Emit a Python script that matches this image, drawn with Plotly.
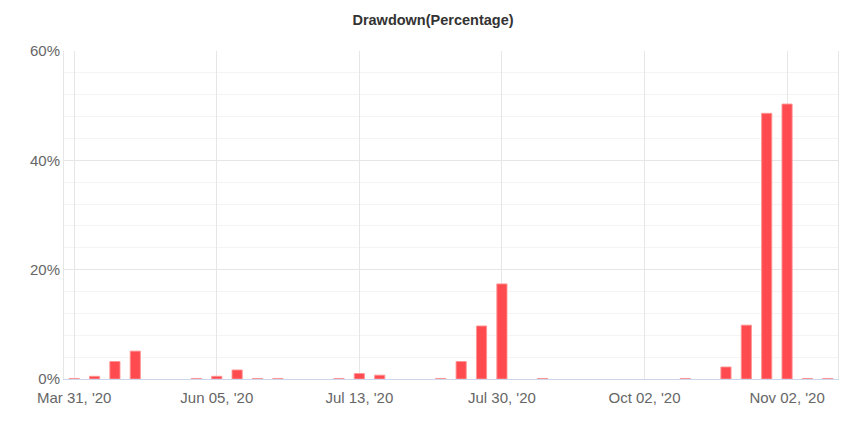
import plotly.graph_objects as go

# slot index of each bar along the categorical time axis (38 slots)
slots = list(range(38))
drawdown_pct = [0.1, 0.5, 3.2, 5.1, 0, 0, 0.1, 0.5, 1.65, 0.1,
                0.1, 0, 0, 0.1, 1.0, 0.7, 0, 0, 0.1, 3.2,
                9.7, 17.4, 0, 0.1, 0, 0, 0, 0, 0, 0,
                0.1, 0, 2.2, 9.85, 48.6, 50.3, 0.1, 0.1]
tick_slots = [0, 7, 14, 21, 28, 35]
tick_labels = ["Mar 31, '20", "Jun 05, '20", "Jul 13, '20", "Jul 30, '20", "Oct 02, '20", "Nov 02, '20"]

xs = [s for s, v in zip(slots, drawdown_pct) if v > 0]
ys = [v for v in drawdown_pct if v > 0]

fig = go.Figure(go.Bar(
    x=xs, y=ys, width=0.5,
    marker=dict(color="#ff4b4f", line=dict(color="rgba(255,150,150,0.9)", width=1)),
    hovertemplate="%{y}%<extra></extra>",
))

font = "Liberation Sans, Arial, sans-serif"
fig.update_layout(
    width=866, height=430,
    margin=dict(l=64, r=28, t=51, b=51),
    paper_bgcolor="white", plot_bgcolor="white",
    showlegend=False,
    title=dict(text="<b>Drawdown(Percentage)</b>", x=0.5, xanchor="center", y=0.953, yanchor="middle",
               font=dict(family=font, size=14.5, color="#333333")),
    font=dict(family=font, size=15, color="#666666"),
)
fig.update_xaxes(
    range=[-0.5, 37.5], tickvals=tick_slots, ticktext=tick_labels,
    showgrid=True, gridcolor="#e6e6e6", gridwidth=1,
    showline=True, linecolor="#ccd6eb", linewidth=1,
    ticks="", zeroline=False, ticklabelstandoff=5,
    tickfont=dict(family=font, size=15, color="#666666"),
)
fig.update_yaxes(
    range=[0, 60], dtick=20, ticksuffix="%",
    showgrid=True, gridcolor="#e6e6e6", gridwidth=1,
    minor=dict(dtick=4, showgrid=True, gridcolor="#f4f4f4", gridwidth=1),
    showline=True, mirror=True, linecolor="#e6e6e6", linewidth=1,
    zeroline=False, ticks="",
    tickfont=dict(family=font, size=15, color="#666666"),
)

fig.write_html("out.html")
